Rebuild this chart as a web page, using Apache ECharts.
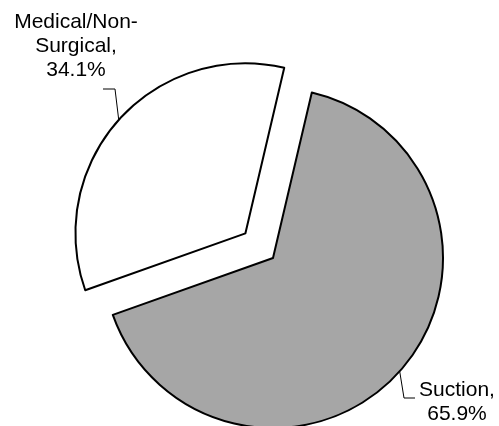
<!DOCTYPE html>
<html><head><meta charset="utf-8">
<script src="https://cdn.jsdelivr.net/npm/echarts@6/dist/echarts.min.js"></script>
<style>html,body{margin:0;padding:0;background:#fff}#c{width:499px;height:426px}</style>
</head><body><div id="c"></div>
<script>
const categories = ['Suction', 'Medical/Non-Surgical'];
const labelNames = ['Suction', 'Medical/Non-\nSurgical'];
const values = [65.9, 34.1];
const colors = ['#a6a6a6', '#ffffff'];

// layout / styling (not data)
const pieCenter = [273, 258];
const pieRadius = 170;
const startAngle = 76.8;
const explodeDist = 37;
// label placement (text anchor centre) and elbow of leader line
const labelPos = [[457, 402], [76, 46]];
const labelElbow = [[[404, 398], [415, 398]], [[115, 89], [103, 89]]];

const total = values.reduce((a, b) => a + b, 0);
function midAngle(idx) {
  let acc = 0;
  for (let k = 0; k < idx; k++) acc += values[k];
  const a = startAngle - (acc + values[idx] / 2) / total * 360;
  return a * Math.PI / 180;
}

function makeSeries(visibleIdx, center) {
  return {
    type: 'pie',
    center: center,
    radius: pieRadius,
    startAngle: startAngle,
    clockwise: true,
    avoidLabelOverlap: false,
    silent: true,
    emphasis: {disabled: true},
    data: categories.map((c, i) => {
      const vis = i === visibleIdx;
      return {
        name: c,
        value: values[i],
        itemStyle: vis ? {color: colors[i], borderColor: '#000', borderWidth: 2}
                       : {color: 'rgba(0,0,0,0)', borderWidth: 0},
        label: {show: vis},
        labelLine: {show: vis}
      };
    }),
    label: {
      position: 'outside',
      formatter: p => labelNames[p.dataIndex] + ',\n' + p.value.toFixed(1) + '%',
      fontFamily: 'Liberation Sans, Arial, sans-serif',
      fontSize: 21,
      lineHeight: 24,
      color: '#000',
      align: 'center'
    },
    labelLine: {lineStyle: {color: '#000', width: 1}, length: 10, length2: 10},
    labelLayout: function (params) {
      const i = params.dataIndex;
      if (i !== visibleIdx) return {};
      const p0 = params.labelLinePoints ? params.labelLinePoints[0] : labelElbow[i][0];
      return {
        x: labelPos[i][0], y: labelPos[i][1],
        align: 'center', verticalAlign: 'middle',
        labelLinePoints: [p0, labelElbow[i][0], labelElbow[i][1]]
      };
    }
  };
}

const m = midAngle(1);
const explodedCenter = [pieCenter[0] + explodeDist * Math.cos(m), pieCenter[1] - explodeDist * Math.sin(m)];

const chart = echarts.init(document.getElementById('c'), null, {renderer: 'canvas'});
chart.setOption({
  animation: false,
  series: [makeSeries(0, pieCenter), makeSeries(1, explodedCenter)]
});
</script></body></html>
